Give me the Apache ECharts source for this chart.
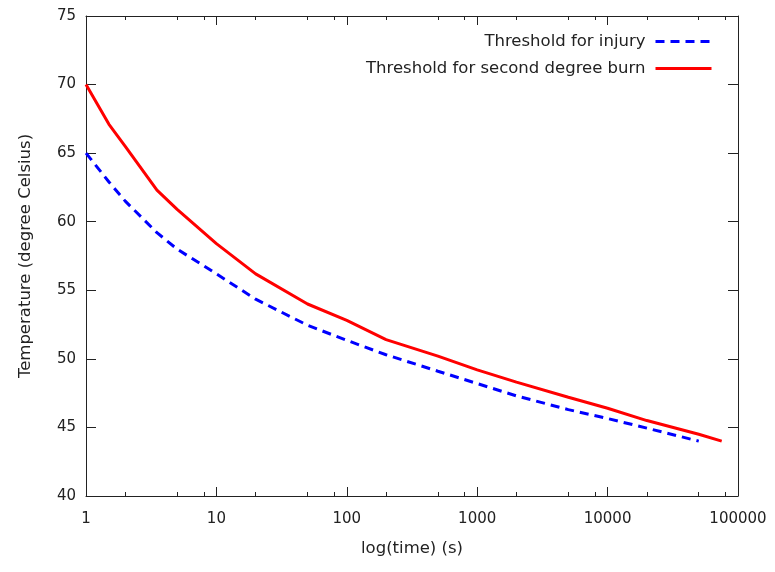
<!DOCTYPE html>
<html>
<head>
<meta charset="utf-8">
<script src="https://cdn.jsdelivr.net/npm/echarts@6/dist/echarts.min.js"></script>
<style>html,body{margin:0;padding:0;background:#fff}#c{width:775px;height:572px}</style>
</head>
<body>
<div id="c"></div>
<script>
// Data (time in s, temperature in degree Celsius)
const injuryTime = [1, 1.5, 2, 3.5, 5, 10, 20, 50, 100, 200, 500, 1000, 2000, 5000, 10000, 20000, 50000];
const injuryTemp = [65, 62.9, 61.5, 59.2, 58.0, 56.2, 54.35, 52.45, 51.35, 50.3, 49.1, 48.2, 47.3, 46.3, 45.65, 44.95, 44.0];
const burnTime = [1, 1.5, 2, 3.5, 5, 10, 20, 50, 100, 200, 500, 1000, 2000, 5000, 10000, 20000, 50000, 75000];
const burnTemp = [70, 67.1, 65.5, 62.3, 60.9, 58.4, 56.2, 54.0, 52.8, 51.4, 50.2, 49.2, 48.3, 47.2, 46.4, 45.5, 44.5, 44.0];
const xMajorTicks = [1, 10, 100, 1000, 10000, 100000];
const xMinorTicks = [2, 5, 8, 20, 50, 80, 200, 500, 800, 2000, 5000, 8000, 20000, 50000, 80000];
const seriesNames = ['Threshold for injury', 'Threshold for second degree burn'];
const xTitle = 'log(time) (s)';
const yTitle = 'Temperature (degree Celsius)';

const FONT = 'DejaVu Sans';
const AX = '#222';
const chart = echarts.init(document.getElementById('c'), null, {renderer: 'canvas'});

function pairs(xs, ys) { return xs.map((x, i) => [x, ys[i]]); }

function logAxis(pos, ticks, len, showLine, showLabel, extra) {
  return Object.assign({
    type: 'log', logBase: 10, position: pos, min: 1, max: 100000,
    axisLine: {show: showLine, onZero: false, lineStyle: {color: AX, width: 1}},
    axisTick: {show: true, inside: true, length: len, customValues: ticks, lineStyle: {color: AX, width: 1}},
    axisLabel: {show: showLabel, customValues: xMajorTicks, formatter: v => String(Math.round(v)),
      color: AX, fontFamily: FONT, fontSize: 15, margin: 16},
    splitLine: {show: false}, minorTick: {show: false}, minorSplitLine: {show: false}
  }, extra || {});
}

chart.setOption({
  animation: false,
  backgroundColor: '#fff',
  grid: {left: 86, right: 37, top: 16, bottom: 76, containLabel: false},
  legend: {
    orient: 'vertical', right: 57, top: 28, align: 'right',
    itemWidth: 56, itemHeight: 14, itemGap: 10,
    itemStyle: {opacity: 0},
    lineStyle: {width: 3},
    textStyle: {fontFamily: FONT, fontSize: 16.5, color: AX, lineHeight: 14, padding: [0, 5, 0, 0]},
    data: seriesNames
  },
  xAxis: [
    logAxis('bottom', xMajorTicks, 9, true, true, {
      name: xTitle, nameLocation: 'middle', nameGap: 44,
      nameTextStyle: {fontFamily: FONT, fontSize: 16.5, color: AX}
    }),
    logAxis('bottom', xMinorTicks, 4, false, false),
    logAxis('top', xMajorTicks, 9, true, false),
    logAxis('top', xMinorTicks, 4, false, false)
  ],
  yAxis: [
    {
      type: 'value', position: 'left', min: 40, max: 75, interval: 5,
      name: yTitle, nameLocation: 'middle', nameGap: 52,
      nameTextStyle: {fontFamily: FONT, fontSize: 16.5, color: AX},
      axisLine: {show: true, onZero: false, lineStyle: {color: AX, width: 1}},
      axisTick: {show: true, inside: true, length: 10, lineStyle: {color: AX}},
      axisLabel: {color: AX, fontFamily: FONT, fontSize: 15, margin: 10},
      splitLine: {show: false}
    },
    {
      type: 'value', position: 'right', min: 40, max: 75, interval: 5,
      axisLine: {show: true, onZero: false, lineStyle: {color: AX, width: 1}},
      axisTick: {show: true, inside: true, length: 10, lineStyle: {color: AX}},
      axisLabel: {show: false},
      splitLine: {show: false}
    }
  ],
  series: [
    {
      name: seriesNames[0], type: 'line', xAxisIndex: 0, yAxisIndex: 0,
      symbol: 'none', smooth: false, clip: true,
      lineStyle: {color: '#0000ff', width: 3, type: [9, 6], cap: 'butt'},
      itemStyle: {color: '#0000ff'},
      data: pairs(injuryTime, injuryTemp)
    },
    {
      name: seriesNames[1], type: 'line', xAxisIndex: 0, yAxisIndex: 0,
      symbol: 'none', smooth: false, clip: true,
      lineStyle: {color: '#ff0000', width: 3, type: 'solid'},
      itemStyle: {color: '#ff0000'},
      data: pairs(burnTime, burnTemp)
    }
  ]
});
</script>
</body>
</html>
